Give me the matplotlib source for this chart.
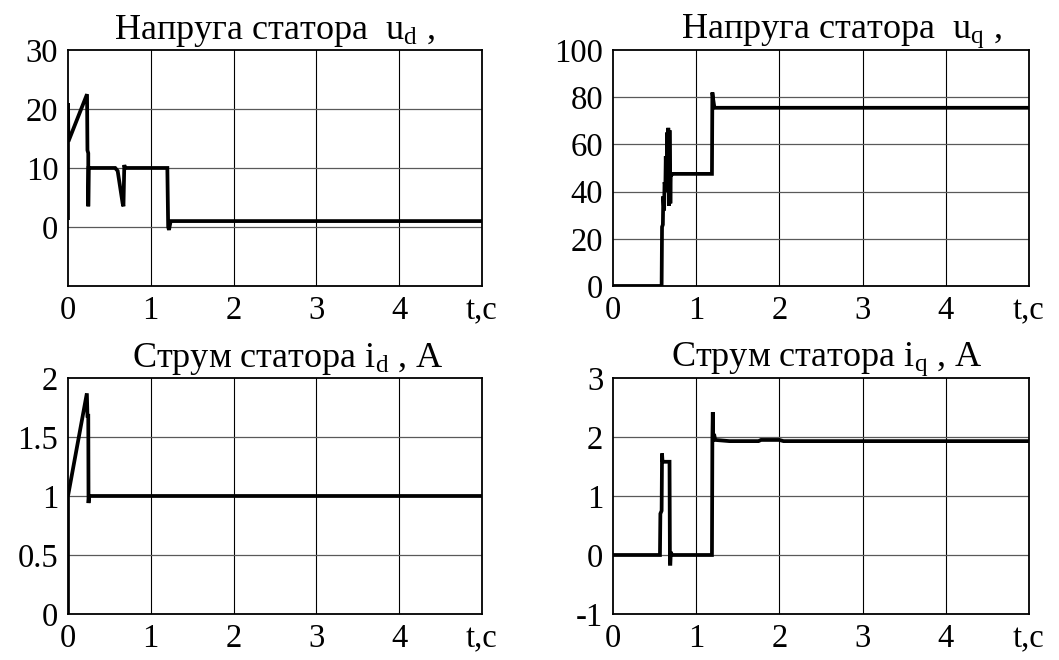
import matplotlib
matplotlib.use('Agg')
import matplotlib.pyplot as plt

plt.rcParams['font.family'] = ['Liberation Serif', 'DejaVu Serif']
plt.rcParams['mathtext.fontset'] = 'custom'
plt.rcParams['mathtext.rm'] = 'Liberation Serif'
plt.rcParams['mathtext.it'] = 'Liberation Serif:italic'

# напруга статора по осі d
t_ud = [0, 0, 0.005, 0.23, 0.235, 0.245, 0.245, 0.25, 0.57, 0.6, 0.66, 0.67,
        0.68, 0.69, 1.2, 1.21, 1.22, 1.24, 5]
ud = [1.5, 21, 14.5, 22.5, 13, 12.5, 3.5, 10, 10, 9.5, 4, 3.5,
      10.5, 10, 10, 0, -0.5, 1.0, 1.0]

# напруга статора по осі q
t_uq = [0, 0.585, 0.59, 0.6, 0.605, 0.615, 0.62, 0.63, 0.635, 0.645, 0.65, 0.66,
        0.665, 0.675, 0.68, 0.69, 0.695, 0.70, 0.71, 1.19, 1.195, 1.205, 1.22, 5]
uq = [0, 0, 25, 26, 38, 32, 44, 42, 55, 40, 65, 45,
      67, 34, 66, 35, 48, 47, 47.5, 47.5, 82, 79, 75.5, 75.5]

# струм статора по осі d
t_id = [0, 0, 0.228, 0.235, 0.245, 0.248, 0.255, 5]
id_ = [0, 1.0, 1.87, 1.68, 1.68, 0.94, 1.0, 1.0]

# струм статора по осі q
t_iq = [0, 0.565, 0.57, 0.585, 0.59, 0.595, 0.6, 0.68, 0.685, 0.69, 0.695, 0.71,
        1.19, 1.195, 1.2, 1.205, 1.215, 1.23, 1.4, 1.75, 1.78, 2.0, 2.05, 5]
iq = [0, 0, 0.7, 0.75, 1.72, 1.6, 1.58, 1.58, -0.15, -0.15, 0.05, 0,
      0, 1.95, 2.42, 2.0, 2.05, 1.95, 1.93, 1.93, 1.95, 1.95, 1.93, 1.93]

x_ticks = [0, 1, 2, 3, 4, 5]
x_labels = ['0', '1', '2', '3', '4', 't,c']

panels = [
    # (позиція, t, y, межі y, поділки y, мітки y, заголовок, зсув заголовка)
    ([0.0642, 0.5667, 0.3909, 0.3576], t_ud, ud, (-10, 30), [-10, 0, 10, 20, 30],
     ['', '0', '10', '20', '30'], 'Напруга статора  $\\mathrm{u}_{\\mathrm{d}}$ ,', 0.50),
    ([0.5788, 0.5667, 0.3928, 0.3576], t_uq, uq, (0, 100), [0, 20, 40, 60, 80, 100],
     ['0', '20', '40', '60', '80', '100'], 'Напруга статора  $\\mathrm{u}_{\\mathrm{q}}$ ,', 0.55),
    ([0.0642, 0.0697, 0.3909, 0.3576], t_id, id_, (0, 2), [0, 0.5, 1, 1.5, 2],
     ['0', '0.5', '1', '1.5', '2'], 'Струм статора $\\mathrm{i}_{\\mathrm{d}}$ , А', 0.53),
    ([0.5788, 0.0697, 0.3928, 0.3576], t_iq, iq, (-1, 3), [-1, 0, 1, 2, 3],
     ['-1', '0', '1', '2', '3'], 'Струм статора $\\mathrm{i}_{\\mathrm{q}}$ , А', 0.515),
]

fig = plt.figure(figsize=(10.59, 6.6), dpi=100)

for pos, t, y, ylim, yticks, ylabels, title, tx in panels:
    ax = fig.add_axes(pos)
    ax.set_xlim(0, 5)
    ax.set_ylim(*ylim)
    ax.set_xticks(x_ticks)
    ax.set_xticklabels(x_labels)
    ax.set_yticks(yticks)
    ax.set_yticklabels(ylabels)
    ax.tick_params(length=0, labelsize=23.5, pad=7)
    for v in x_ticks[1:-1]:
        ax.axvline(v, color='black', lw=0.8, zorder=1)
    for v in yticks[1:-1]:
        ax.axhline(v, color='0.35', lw=0.9, zorder=1)
    ax.plot(t, y, color='black', lw=2.7, zorder=3, solid_joinstyle='miter')
    for s in ax.spines.values():
        s.set_linewidth(1.3)
    ax.set_title(title, fontsize=26, pad=8, x=tx)

fig.savefig('out.png', dpi=100)
